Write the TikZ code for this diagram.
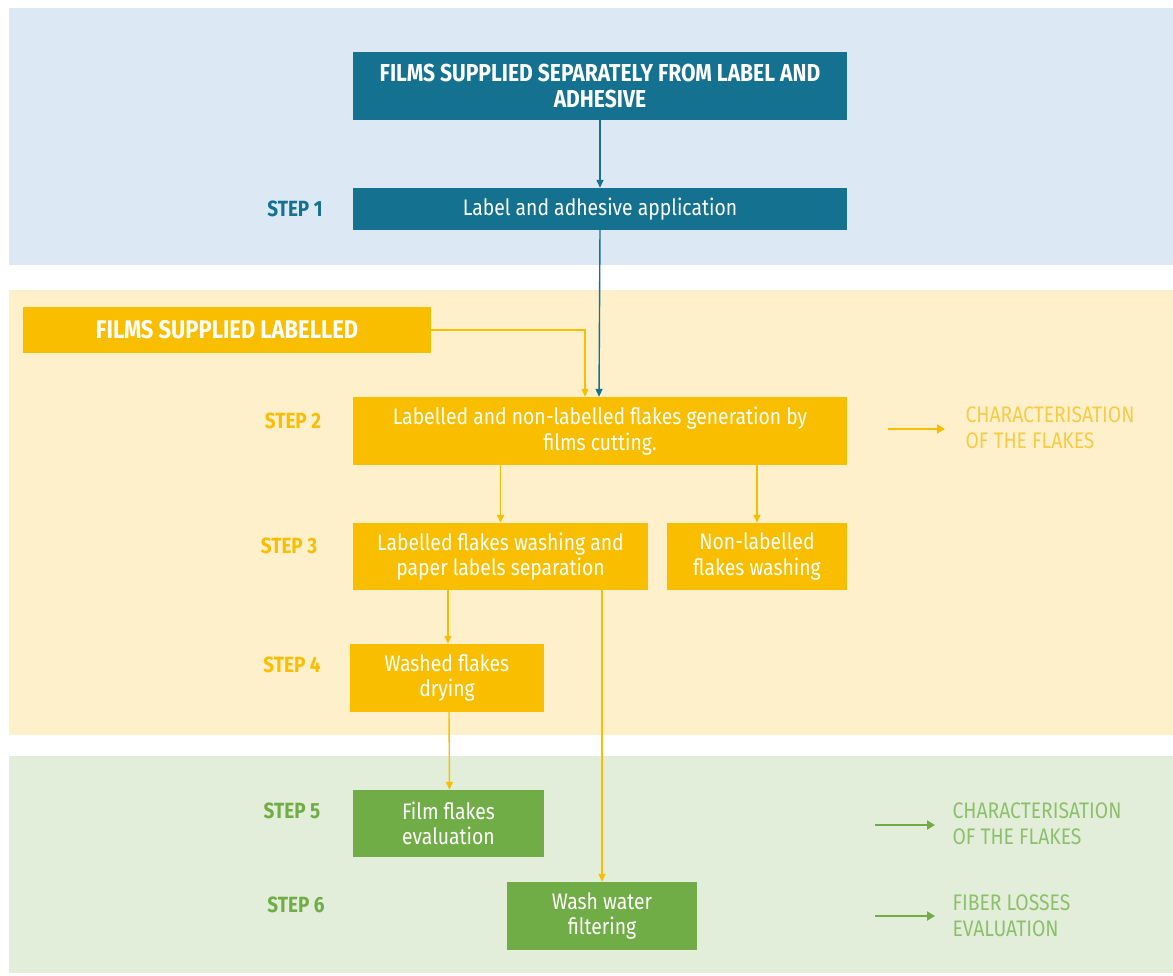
\documentclass[tikz,border=0pt]{standalone}
\usepackage{fontspec}
\setmainfont{Fira Sans}[FakeStretch=0.86]
\usetikzlibrary{arrows.meta}

\definecolor{teal1}{HTML}{14718F}
\definecolor{gold1}{HTML}{F9BE00}
\definecolor{leaf1}{HTML}{70AD47}
\definecolor{bandblue}{HTML}{DCE8F4}
\definecolor{bandgold}{HTML}{FFF0CC}
\definecolor{bandleaf}{HTML}{E2EED9}
\definecolor{goldtext}{HTML}{F8CB45}
\definecolor{leaftext}{HTML}{8DC06C}

\begin{document}
\begin{tikzpicture}[x=1pt, y=-1pt,
  box/.style={minimum width=#1, inner sep=2pt, align=center, text=white, font=\fontsize{22.5}{25.5}\selectfont},
  stepname/.style={font=\bfseries\fontsize{22}{24}\selectfont},
  side/.style={align=left, anchor=west, font=\fontsize{22.5}{26}\selectfont},
  flow/.style={-{Triangle[length=8pt,width=7pt]}, line width=1.4pt},
  outarrow/.style={-{Triangle[length=8pt,width=9pt]}, line width=2.6pt}]
\useasboundingbox (0,0) rectangle (1173,975);
% bands
\fill [bandblue] (9,8) rectangle (1173,265);
\fill [bandgold] (9,290) rectangle (1173,735);
\fill [bandleaf] (9,756) rectangle (1173,973);

% boxes
\node (supply) [box=494pt, minimum height=68pt, fill=teal1, font=\bfseries\fontsize{24.5}{25.5}\selectfont] at (600,86) {FILMS SUPPLIED SEPARATELY FROM LABEL AND\\ADHESIVE};
\node (apply) [box=494pt, minimum height=42pt, fill=teal1] at (600,209) {Label and adhesive application};
\node (labelled) [box=408pt, minimum height=46pt, fill=gold1, font=\bfseries\fontsize{25.5}{28}\selectfont] at (227,330) {FILMS SUPPLIED LABELLED};
\node (cut) [box=494pt, minimum height=68pt, fill=gold1] at (600,431) {Labelled and non-labelled flakes generation by\\films cutting.};
\node (washA) [box=295pt, minimum height=67pt, fill=gold1] at (500.5,556.5) {Labelled flakes washing and\\paper labels separation};
\node (washB) [box=180pt, minimum height=67pt, fill=gold1] at (757,556.5) {Non-labelled\\flakes washing};
\node (dry) [box=194pt, minimum height=68pt, fill=gold1] at (447,678) {Washed flakes\\drying};
\node (evalf) [box=191pt, minimum height=67pt, fill=leaf1] at (448.5,823.5) {Film flakes\\evaluation};
\node (filter) [box=190pt, minimum height=68pt, fill=leaf1] at (602,916) {Wash water\\filtering};

% step names
\node (s1) [stepname, text=teal1] at (295,209) {STEP 1};
\node (s2) [stepname, text=gold1] at (293,421) {STEP 2};
\node (s3) [stepname, text=gold1] at (289,546) {STEP 3};
\node (s4) [stepname, text=gold1] at (292,665) {STEP 4};
\node (s5) [stepname, text=leaf1] at (292,811) {STEP 5};
\node (s6) [stepname, text=leaf1] at (296,905) {STEP 6};

% connectors
\draw [flow, teal1] (supply) -- (apply);
\draw [flow, teal1] (apply.south) -- ([xshift=-1pt]cut.north);
\draw [flow, gold1] (labelled.east) -| ([xshift=-15pt]cut.north);
\draw [flow, gold1] (washA.north |- cut.south) -- (washA.north);
\draw [flow, gold1] (washB.north |- cut.south) -- (washB.north);
\draw [flow, gold1] ([xshift=1pt]dry.north |- washA.south) -- ([xshift=1pt]dry.north);
\draw [flow, gold1] ([xshift=2pt]dry.south) -- ([xshift=1pt]evalf.north);
\draw [flow, gold1] (filter.north |- washA.south) -- (filter.north);

% results
\coordinate (o2a) at (888,429);
\coordinate (o2b) at (945,429);
\coordinate (o5a) at (875,825);
\coordinate (o5b) at (935,825);
\coordinate (o6a) at (875,916);
\coordinate (o6b) at (935,916);
\draw [outarrow, gold1] (o2a) -- (o2b);
\draw [outarrow, leaf1] (o5a) -- (o5b);
\draw [outarrow, leaf1] (o6a) -- (o6b);
\node (r2) [side, text=goldtext] at (962,428) {CHARACTERISATION\\OF THE FLAKES};
\node (r5) [side, text=leaftext] at (949,824) {CHARACTERISATION\\OF THE FLAKES};
\node (r6) [side, text=leaftext] at (949,916) {FIBER LOSSES\\EVALUATION};
\end{tikzpicture}
\end{document}
